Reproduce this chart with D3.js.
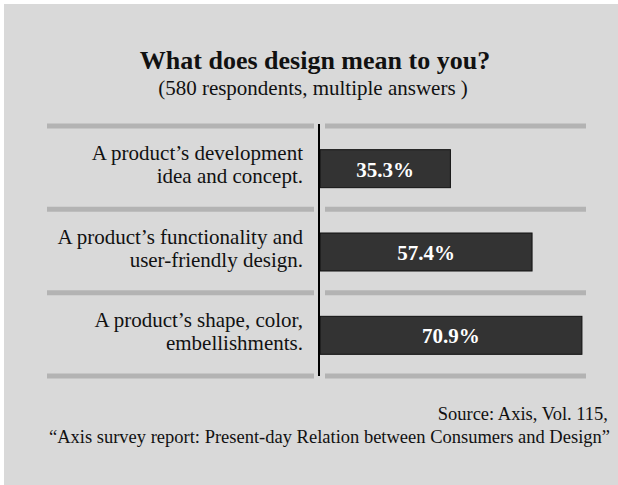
<!DOCTYPE html>
<html>
<head>
<meta charset="utf-8">
<script src="https://cdn.jsdelivr.net/npm/d3@7"></script>
<style>
  html, body { margin: 0; padding: 0; background: #fff; }
  svg { display: block; font-family: "Liberation Serif", "Times New Roman", serif; }
</style>
</head>
<body>
<svg id="chart" width="618" height="485"></svg>
<script>
// Survey answers (580 respondents, multiple answers)
const categories = [
  "A product\u2019s development|idea and concept.",
  "A product\u2019s functionality and|user-friendly design.",
  "A product\u2019s shape, color,|embellishments."
];
const values = [35.3, 57.4, 70.9];
const valueLabels = ["35.3%", "57.4%", "70.9%"];

const width = 618, height = 485;
const svg = d3.select("#chart");

// gray panel
svg.append("rect")
  .attr("x", 4).attr("y", 4)
  .attr("width", width - 4).attr("height", height - 4)
  .attr("fill", "#d9d9d9");

// Title
svg.append("text")
  .attr("x", 315).attr("y", 69)
  .attr("text-anchor", "middle")
  .attr("font-size", "26px")
  .attr("font-weight", "bold")
  .attr("fill", "#111")
  .text("What does design mean to you?");

svg.append("text")
  .attr("x", 313).attr("y", 95)
  .attr("text-anchor", "middle")
  .attr("font-size", "21px")
  .attr("fill", "#111")
  .text("(580 respondents, multiple answers )");

// scales
const axisX = 320;
const x = d3.scaleLinear().domain([0, 72]).range([axisX, 586]);
const y = d3.scaleBand().domain(categories).range([126, 376]).padding(0);
const barH = 38;

// separators at band edges
const edges = categories.map(c => y(c)).concat([y(categories[categories.length - 1]) + y.bandwidth()]);
const sep = svg.append("g");
edges.forEach(e => {
  sep.append("line")
    .attr("x1", 47).attr("x2", 314)
    .attr("y1", e).attr("y2", e)
    .attr("stroke", "#b3b3b3").attr("stroke-width", 5);
  sep.append("line")
    .attr("x1", 325).attr("x2", 586)
    .attr("y1", e).attr("y2", e)
    .attr("stroke", "#b3b3b3").attr("stroke-width", 5);
});

// bars
const rows = categories.map((c, i) => ({ cat: c, value: values[i], label: valueLabels[i] }));
const mid = d => y(d.cat) + y.bandwidth() / 2 + 1;

svg.selectAll(".bar")
  .data(rows)
  .enter()
  .append("rect")
  .attr("class", "bar")
  .attr("x", x(0))
  .attr("y", d => mid(d) - barH / 2)
  .attr("width", d => x(d.value) - x(0))
  .attr("height", barH)
  .attr("fill", "#333333")
  .attr("stroke", "#111")
  .attr("stroke-width", 1);

svg.selectAll(".val")
  .data(rows)
  .enter()
  .append("text")
  .attr("class", "val")
  .attr("x", d => (x(0) + x(d.value)) / 2)
  .attr("y", d => mid(d) + 8)
  .attr("text-anchor", "middle")
  .attr("font-size", "21px")
  .attr("font-weight", "bold")
  .attr("fill", "#fff")
  .text(d => d.label);

// category labels (two lines each)
const lab = svg.selectAll(".cat")
  .data(rows)
  .enter()
  .append("text")
  .attr("class", "cat")
  .attr("text-anchor", "end")
  .attr("font-size", "21px")
  .attr("fill", "#111");

lab.each(function(d) {
  const lines = d.cat.split("|");
  const c = y(d.cat) + y.bandwidth() / 2;
  d3.select(this).selectAll("tspan")
    .data(lines)
    .enter()
    .append("tspan")
    .attr("x", 303)
    .attr("y", (l, i) => c - 7.5 + i * 23.3)
    .text(l => l);
});

// vertical axis line
svg.append("line")
  .attr("x1", 319).attr("x2", 319)
  .attr("y1", 124).attr("y2", 376)
  .attr("stroke", "#000").attr("stroke-width", 2);

// source
const src = svg.append("text")
  .attr("text-anchor", "end")
  .attr("font-size", "18.5px")
  .attr("fill", "#111");
src.append("tspan").attr("x", 608).attr("y", 420).text("Source: Axis, Vol. 115,");
src.append("tspan").attr("x", 610).attr("y", 442.7)
  .text("\u201CAxis survey report: Present-day Relation between Consumers and Design\u201D");
</script>
</body>
</html>
